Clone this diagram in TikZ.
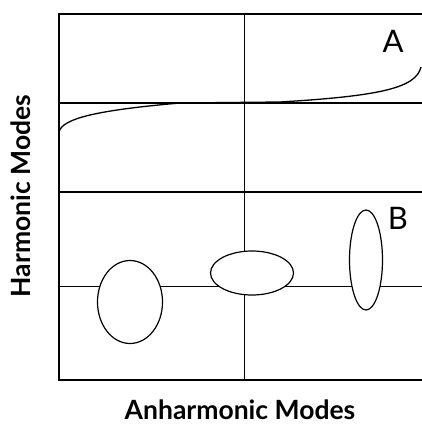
\documentclass[tikz,border=0pt]{standalone}
\usepackage{fontspec}
\setmainfont{Lato}
\usetikzlibrary{shapes.geometric}
\begin{document}
\begin{tikzpicture}[x=1pt,y=-1pt,
  frame/.style={line width=2.2pt},
  thin/.style={line width=0.9pt},
  blob/.style={ellipse,draw,line width=1.2pt,fill=white,inner sep=0pt},
  lbl/.style={font=\fontsize{31}{31}\selectfont},
  axis/.style={font=\fontsize{26.5}{26.5}\selectfont\bfseries,inner sep=0pt}]
\useasboundingbox (0,0) rectangle (422,426);
% grid lines
\draw[thin] (244,14) -- (244,380);
\draw[thin] (59,286) -- (422,286);
\draw[line width=1.4pt] (59,103) -- (422,103);
% frame
\draw[frame] (422,14) -- (59,14) -- (59,380) -- (422,380);
\draw[frame] (59,192) -- (422,192);
% curve A
\draw[line width=1.3pt] (59,132) .. controls (62,118) and (100,110) .. (180,103)
  -- (280,102) .. controls (380,96) and (416,88) .. (421,67);
% ellipses B
\node[blob,minimum width=65pt,minimum height=83pt] (e1) at (130,302) {};
\node[blob,minimum width=83pt,minimum height=44pt] (e2) at (252,273) {};
\node[blob,minimum width=33pt,minimum height=100pt] (e3) at (366,260) {};
% labels
\node[lbl] (la) at (393,41) {A};
\node[lbl] (lb) at (398,218) {B};
\node[axis,rotate=90] (yl) at (21,196) {Harmonic Modes};
\node[axis] (xl) at (240,410) {Anharmonic Modes};
\end{tikzpicture}
\end{document}
